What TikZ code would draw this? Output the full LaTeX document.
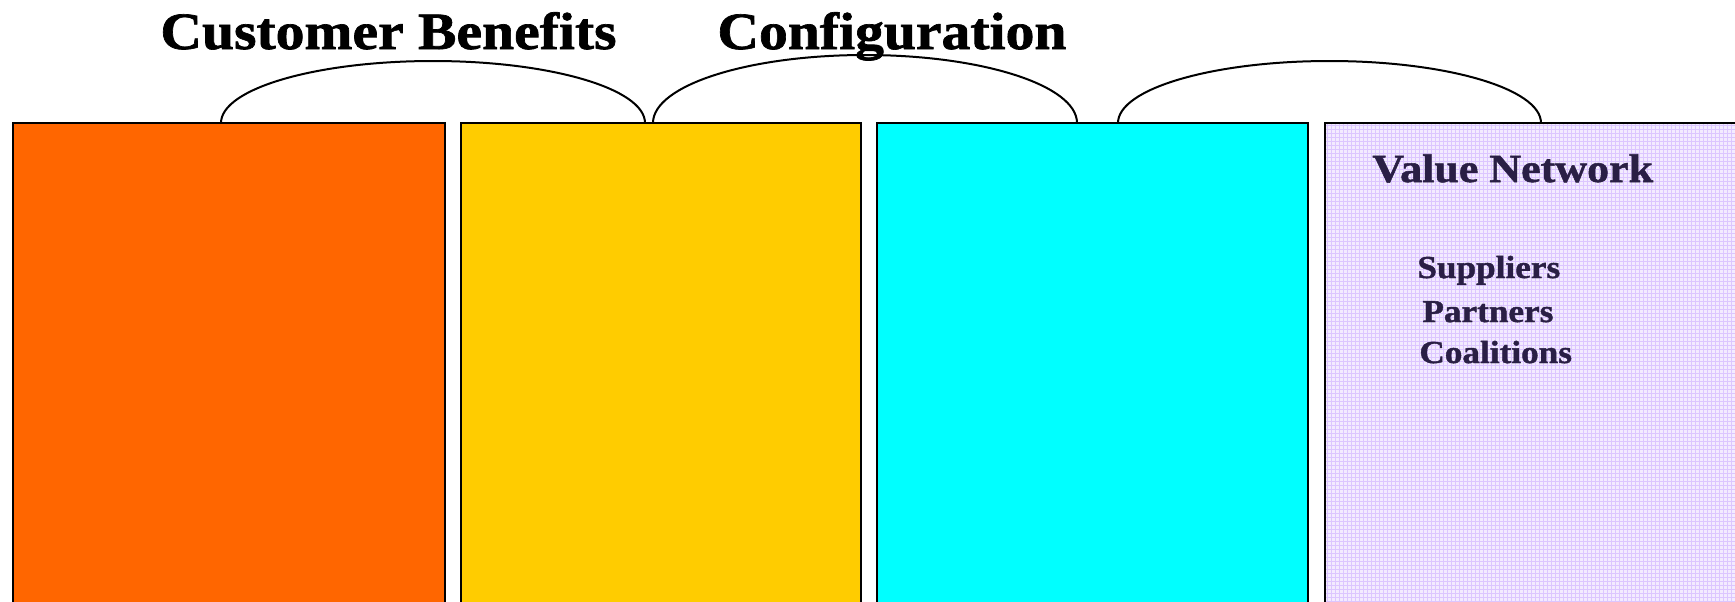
\documentclass[tikz,border=0pt]{standalone}
\usepackage{fontspec}
\newfontfamily\headfont{Liberation Serif}[FakeStretch=1.1, FakeBold=1.3]
\definecolor{panelorange}{HTML}{FF6600}
\definecolor{panelgold}{HTML}{FFCC00}
\definecolor{panelcyan}{HTML}{00FFFF}
\definecolor{panellilac}{HTML}{F3EBFF}
\definecolor{gridlilac}{HTML}{DCC6FF}
\definecolor{inkpurple}{HTML}{2A1F45}
\tikzset{
  panel/.style={draw=black, line width=1.1pt},
  link/.style={draw=black, line width=1pt},
  headline/.style={anchor=base west, inner sep=0pt, font=\headfont\bfseries\fontsize{26.2pt}{30pt}\selectfont},
  nettitle/.style={anchor=base west, inner sep=0pt, text=inkpurple, font=\headfont\bfseries\fontsize{20pt}{24pt}\selectfont},
  netitem/.style={anchor=base west, inner sep=0pt, text=inkpurple, font=\headfont\bfseries\fontsize{16pt}{19pt}\selectfont}
}
\begin{document}
\begin{tikzpicture}[x=0.5pt, y=-0.5pt]
\useasboundingbox (0,0) rectangle (1735,601);
\clip (0,0) rectangle (1735,601);
\fill[white] (0,0) rectangle (1735,601);

% four panels, running off the bottom edge
\path[panel, fill=panelorange] (13,123) rectangle (445,640);
\path[panel, fill=panelgold]   (461,123) rectangle (861,640);
\path[panel, fill=panelcyan]   (877,123) rectangle (1308,640);
\fill[panellilac] (1325,123) rectangle (1760,640);
\begin{scope}
  \clip (1325,123) rectangle (1760,640);
  \foreach \gx in {1327,1331,...,1760} {\draw[gridlilac, line width=0.35pt] (\gx,123) -- (\gx,640);}
  \foreach \gy in {125,129,...,640} {\draw[gridlilac, line width=0.3pt] (1325,\gy) -- (1760,\gy);}
\end{scope}
\path[panel] (1325,123) rectangle (1760,640);

% end points of the linking arcs on the panel tops
\coordinate (a1) at (221,123);
\coordinate (b1) at (645,123);
\coordinate (a2) at (653,123);
\coordinate (b2) at (1077,123);
\coordinate (a3) at (1118,123);
\coordinate (b3) at (1541,123);

\draw[link] (a1) arc[start angle=180, end angle=360, x radius=212, y radius=62];
\draw[link] (a2) arc[start angle=180, end angle=360, x radius=212, y radius=68];
\draw[link] (a3) arc[start angle=180, end angle=360, x radius=211.5, y radius=62];

% headings
\node[headline] (benefits) at (160,49) {Customer Benefits};
\node[headline] (config) at (717,49) {Configuration};

% value network panel text
\node[nettitle] (network) at (1372,182) {Value Network};
\node[netitem] (suppliers) at (1417,278) {Suppliers};
\node[netitem] (partners) at (1422,322) {Partners};
\node[netitem] (coalitions) at (1419,363) {Coalitions};
\end{tikzpicture}
\end{document}
